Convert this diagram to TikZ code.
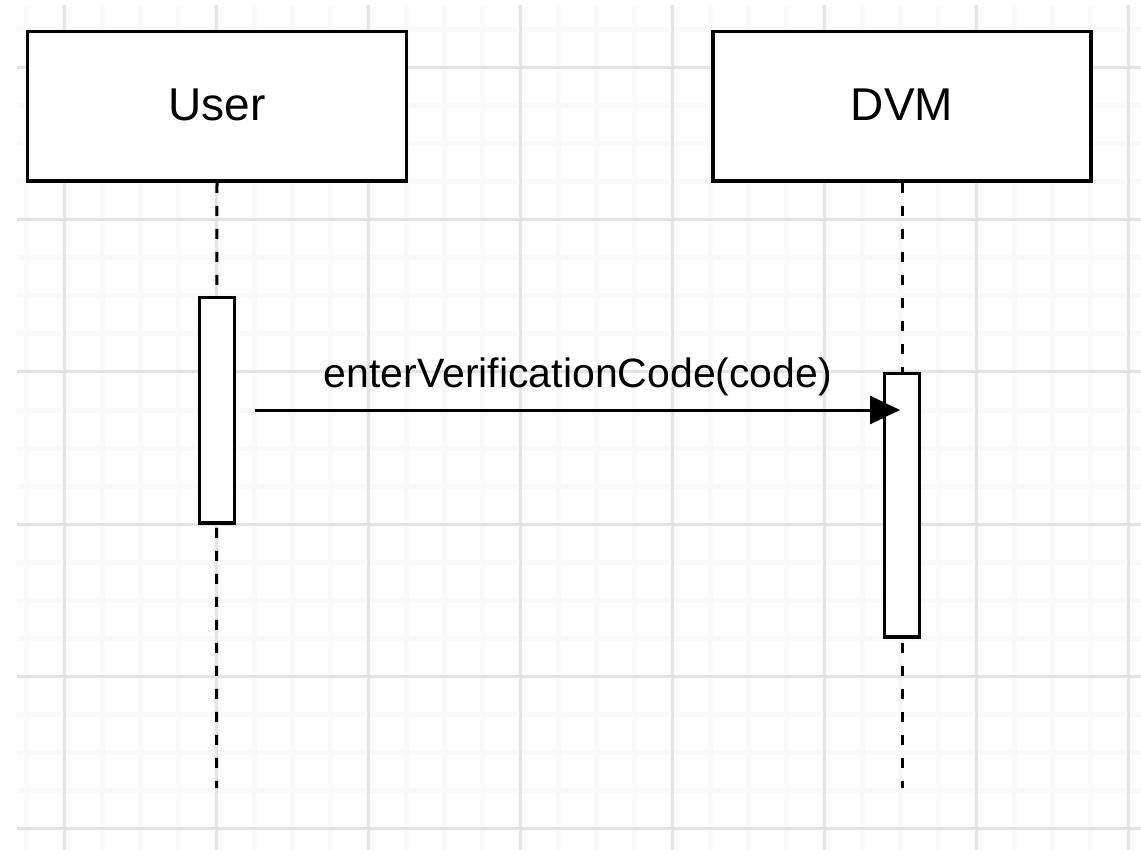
\documentclass[tikz,border=0pt]{standalone}
\usepackage{fontspec}
\setmainfont{Liberation Sans}
\usetikzlibrary{arrows.meta}
\definecolor{gridmajor}{HTML}{E4E4E4}
\definecolor{gridminor}{HTML}{FAFAFA}
\tikzset{
  minorline/.style={draw=gridminor, line width=5pt},
  majorline/.style={draw=gridmajor, line width=3pt},
  headbox/.style={draw=black, fill=white, line width=3.5pt, inner sep=0pt,
    font=\fontsize{46}{50}\selectfont},
  actbox/.style={draw=black, fill=white, line width=3.5pt, inner sep=0pt, minimum width=35pt},
  lifeline/.style={draw=black, line width=3pt, dash pattern=on 10pt off 13pt},
  msg/.style={draw=black, line width=3pt, -{Triangle[length=30pt,width=28pt]}},
  msglabel/.style={font=\fontsize{41}{45}\selectfont, inner sep=0pt}
}
\begin{document}
\begin{tikzpicture}[x=1pt,y=-1pt]
\useasboundingbox[fill=white] (0,0) rectangle (1141,850);
% grid
\foreach \x in {26,64,...,1130} \draw[minorline] (\x,5) -- (\x,850);
\foreach \y in {30,68,...,850} \draw[minorline] (17,\y) -- (1141,\y);
\foreach \x in {64,216,...,1130} \draw[majorline] (\x,5) -- (\x,850);
\foreach \y in {68,220,...,850} \draw[majorline] (17,\y) -- (1141,\y);
% heads
\node[headbox, minimum width=379pt, minimum height=149.5pt] (user) at (217,106.3) {\raisebox{4pt}{User}};
\node[headbox, minimum width=378pt, minimum height=149.5pt] (dvm) at (902,106.3) {\raisebox{4pt}{DVM}};
% lifeline ends
\coordinate (userend) at (216.5,788);
\coordinate (dvmend) at (902,788);
\draw[lifeline] (user.south) -- (userend);
\draw[lifeline] (dvm.south) -- (dvmend);
% activations
\node[actbox, minimum height=225.5pt] (useract) at (217,410.2) {};
\node[actbox, minimum height=263.5pt] (dvmact) at (902,505.2) {};
% message
\coordinate (msgstart) at (255,410);
\coordinate (msgend) at (900,410);
\draw[msg] (msgstart) -- (msgend);
\node[msglabel] (msgtext) at (578,377) {enterVerificationCode(code)};
\end{tikzpicture}
\end{document}
